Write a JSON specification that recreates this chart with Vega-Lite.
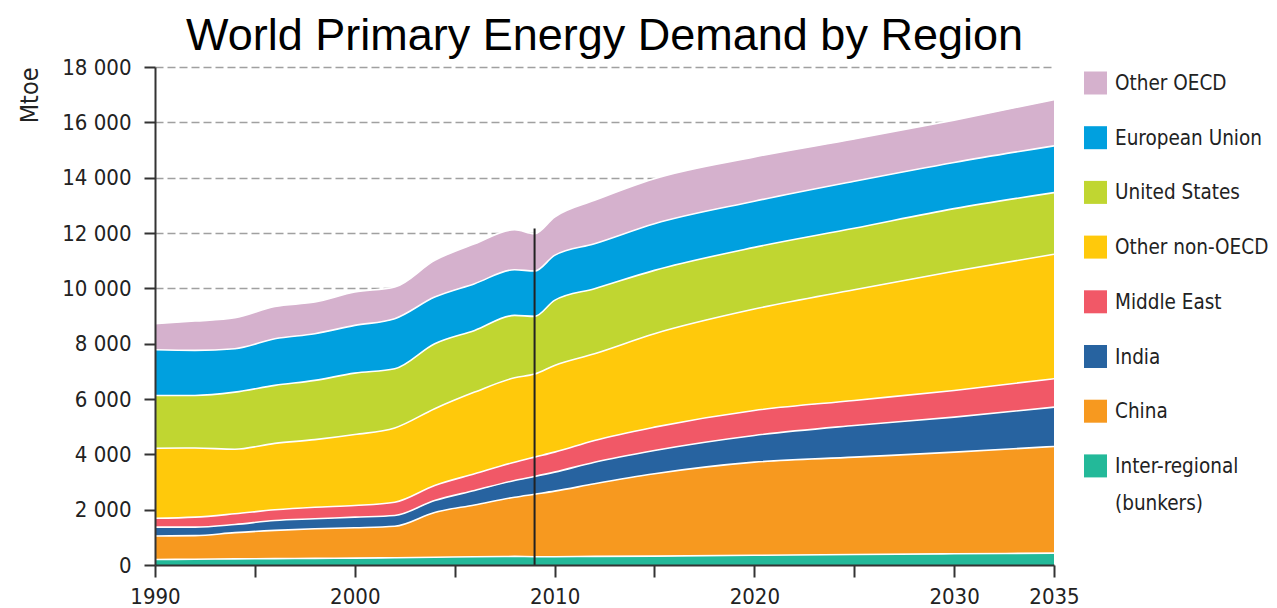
{
  "$schema": "https://vega.github.io/schema/vega-lite/v6.json",
  "width": 899,
  "height": 498,
  "autosize": {"type": "none"},
  "padding": {"left": 155, "top": 67, "right": 223, "bottom": 43},
  "background": "white",
  "title": {"text": "World Primary Energy Demand by Region", "font": "Liberation Sans, Arial, sans-serif", "fontSize": 45, "fontWeight": "normal", "color": "#000000", "anchor": "middle", "frame": "group", "baseline": "alphabetic", "offset": -39},
  "config": {"view": {"stroke": null}},
  "datasets": {
    "energy": [
      {"year": 1990, "region": "Inter-regional (bunkers)", "value": 200}, {"year": 1990, "region": "China", "value": 850}, {"year": 1990, "region": "India", "value": 320}, {"year": 1990, "region": "Middle East", "value": 320}, {"year": 1990, "region": "Other non-OECD", "value": 2530}, {"year": 1990, "region": "United States", "value": 1909}, {"year": 1990, "region": "European Union", "value": 1652}, {"year": 1990, "region": "Other OECD", "value": 941},
      {"year": 1992, "region": "Inter-regional (bunkers)", "value": 210}, {"year": 1992, "region": "China", "value": 850}, {"year": 1992, "region": "India", "value": 310}, {"year": 1992, "region": "Middle East", "value": 359}, {"year": 1992, "region": "Other non-OECD", "value": 2501}, {"year": 1992, "region": "United States", "value": 1899}, {"year": 1992, "region": "European Union", "value": 1628}, {"year": 1992, "region": "Other OECD", "value": 1060},
      {"year": 1994, "region": "Inter-regional (bunkers)", "value": 220}, {"year": 1994, "region": "China", "value": 950}, {"year": 1994, "region": "India", "value": 294}, {"year": 1994, "region": "Middle East", "value": 387}, {"year": 1994, "region": "Other non-OECD", "value": 2334}, {"year": 1994, "region": "United States", "value": 2064}, {"year": 1994, "region": "European Union", "value": 1569}, {"year": 1994, "region": "Other OECD", "value": 1120},
      {"year": 1996, "region": "Inter-regional (bunkers)", "value": 230}, {"year": 1996, "region": "China", "value": 1020}, {"year": 1996, "region": "India", "value": 359}, {"year": 1996, "region": "Middle East", "value": 387}, {"year": 1996, "region": "Other non-OECD", "value": 2399}, {"year": 1996, "region": "United States", "value": 2096}, {"year": 1996, "region": "European Union", "value": 1689}, {"year": 1996, "region": "Other OECD", "value": 1167},
      {"year": 1998, "region": "Inter-regional (bunkers)", "value": 240}, {"year": 1998, "region": "China", "value": 1070}, {"year": 1998, "region": "India", "value": 360}, {"year": 1998, "region": "Middle East", "value": 420}, {"year": 1998, "region": "Other non-OECD", "value": 2440}, {"year": 1998, "region": "United States", "value": 2142}, {"year": 1998, "region": "European Union", "value": 1688}, {"year": 1998, "region": "Other OECD", "value": 1143},
      {"year": 2000, "region": "Inter-regional (bunkers)", "value": 250}, {"year": 2000, "region": "China", "value": 1095}, {"year": 2000, "region": "India", "value": 384}, {"year": 2000, "region": "Middle East", "value": 423}, {"year": 2000, "region": "Other non-OECD", "value": 2563}, {"year": 2000, "region": "United States", "value": 2221}, {"year": 2000, "region": "European Union", "value": 1725}, {"year": 2000, "region": "Other OECD", "value": 1204},
      {"year": 2002, "region": "Inter-regional (bunkers)", "value": 260}, {"year": 2002, "region": "China", "value": 1140}, {"year": 2002, "region": "India", "value": 390}, {"year": 2002, "region": "Middle East", "value": 481}, {"year": 2002, "region": "Other non-OECD", "value": 2684}, {"year": 2002, "region": "United States", "value": 2138}, {"year": 2002, "region": "European Union", "value": 1809}, {"year": 2002, "region": "Other OECD", "value": 1144},
      {"year": 2004, "region": "Inter-regional (bunkers)", "value": 280}, {"year": 2004, "region": "China", "value": 1620}, {"year": 2004, "region": "India", "value": 432}, {"year": 2004, "region": "Middle East", "value": 543}, {"year": 2004, "region": "Other non-OECD", "value": 2775}, {"year": 2004, "region": "United States", "value": 2348}, {"year": 2004, "region": "European Union", "value": 1686}, {"year": 2004, "region": "Other OECD", "value": 1327},
      {"year": 2006, "region": "Inter-regional (bunkers)", "value": 300}, {"year": 2006, "region": "China", "value": 1870}, {"year": 2006, "region": "India", "value": 524}, {"year": 2006, "region": "Middle East", "value": 604}, {"year": 2006, "region": "Other non-OECD", "value": 2951}, {"year": 2006, "region": "United States", "value": 2231}, {"year": 2006, "region": "European Union", "value": 1688}, {"year": 2006, "region": "Other OECD", "value": 1446},
      {"year": 2008, "region": "Inter-regional (bunkers)", "value": 310}, {"year": 2008, "region": "China", "value": 2140}, {"year": 2008, "region": "India", "value": 605}, {"year": 2008, "region": "Middle East", "value": 662}, {"year": 2008, "region": "Other non-OECD", "value": 3052}, {"year": 2008, "region": "United States", "value": 2253}, {"year": 2008, "region": "European Union", "value": 1652}, {"year": 2008, "region": "Other OECD", "value": 1447},
      {"year": 2009, "region": "Inter-regional (bunkers)", "value": 300}, {"year": 2009, "region": "China", "value": 2260}, {"year": 2009, "region": "India", "value": 640}, {"year": 2009, "region": "Middle East", "value": 700}, {"year": 2009, "region": "Other non-OECD", "value": 3000}, {"year": 2009, "region": "United States", "value": 2086}, {"year": 2009, "region": "European Union", "value": 1639}, {"year": 2009, "region": "Other OECD", "value": 1351},
      {"year": 2010, "region": "Inter-regional (bunkers)", "value": 300}, {"year": 2010, "region": "China", "value": 2370}, {"year": 2010, "region": "India", "value": 686}, {"year": 2010, "region": "Middle East", "value": 723}, {"year": 2010, "region": "Other non-OECD", "value": 3135}, {"year": 2010, "region": "United States", "value": 2351}, {"year": 2010, "region": "European Union", "value": 1627}, {"year": 2010, "region": "Other OECD", "value": 1386},
      {"year": 2012, "region": "Inter-regional (bunkers)", "value": 310}, {"year": 2012, "region": "China", "value": 2626}, {"year": 2012, "region": "India", "value": 781}, {"year": 2012, "region": "Middle East", "value": 785}, {"year": 2012, "region": "Other non-OECD", "value": 3135}, {"year": 2012, "region": "United States", "value": 2349}, {"year": 2012, "region": "European Union", "value": 1628}, {"year": 2012, "region": "Other OECD", "value": 1567},
      {"year": 2015, "region": "Inter-regional (bunkers)", "value": 320}, {"year": 2015, "region": "China", "value": 2978}, {"year": 2015, "region": "India", "value": 842}, {"year": 2015, "region": "Middle East", "value": 843}, {"year": 2015, "region": "Other non-OECD", "value": 3377}, {"year": 2015, "region": "United States", "value": 2289}, {"year": 2015, "region": "European Union", "value": 1689}, {"year": 2015, "region": "Other OECD", "value": 1627},
      {"year": 2020, "region": "Inter-regional (bunkers)", "value": 350}, {"year": 2020, "region": "China", "value": 3367}, {"year": 2020, "region": "India", "value": 966}, {"year": 2020, "region": "Middle East", "value": 904}, {"year": 2020, "region": "Other non-OECD", "value": 3663}, {"year": 2020, "region": "United States", "value": 2230}, {"year": 2020, "region": "European Union", "value": 1670}, {"year": 2020, "region": "Other OECD", "value": 1600},
      {"year": 2025, "region": "Inter-regional (bunkers)", "value": 380}, {"year": 2025, "region": "China", "value": 3518}, {"year": 2025, "region": "India", "value": 1147}, {"year": 2025, "region": "Middle East", "value": 903}, {"year": 2025, "region": "Other non-OECD", "value": 4002}, {"year": 2025, "region": "United States", "value": 2220}, {"year": 2025, "region": "European Union", "value": 1700}, {"year": 2025, "region": "Other OECD", "value": 1530},
      {"year": 2030, "region": "Inter-regional (bunkers)", "value": 405}, {"year": 2030, "region": "China", "value": 3674}, {"year": 2030, "region": "India", "value": 1266}, {"year": 2030, "region": "Middle East", "value": 965}, {"year": 2030, "region": "Other non-OECD", "value": 4310}, {"year": 2030, "region": "United States", "value": 2260}, {"year": 2030, "region": "European Union", "value": 1670}, {"year": 2030, "region": "Other OECD", "value": 1530},
      {"year": 2035, "region": "Inter-regional (bunkers)", "value": 430}, {"year": 2035, "region": "China", "value": 3855}, {"year": 2035, "region": "India", "value": 1421}, {"year": 2035, "region": "Middle East", "value": 1027}, {"year": 2035, "region": "Other non-OECD", "value": 4497}, {"year": 2035, "region": "United States", "value": 2230}, {"year": 2035, "region": "European Union", "value": 1690}, {"year": 2035, "region": "Other OECD", "value": 1670}
    ],
    "marker": [{"year": 2009, "lo": 0, "hi": 12160}]
  },
  "encoding": {
    "x": {
      "field": "year", "type": "quantitative",
      "scale": {"domain": [1990, 2035], "nice": false, "zero": false},
      "axis": {
        "values": [1990, 1995, 2000, 2005, 2010, 2015, 2020, 2025, 2030, 2035],
        "format": "d",
        "labelExpr": "datum.value % 10 == 0 || datum.value == 2035 ? datum.label : ''",
        "title": null, "grid": false,
        "domainColor": "#333333", "domainWidth": 2,
        "tickColor": "#333333", "tickWidth": 2, "tickSize": 12,
        "labelPadding": 9, "labelFlush": false, "labelOverlap": false,
        "labelFont": "DejaVu Sans Condensed, DejaVu Sans, sans-serif",
        "labelFontSize": 22, "labelColor": "#222222",
        "zindex": 1
      }
    }
  },
  "layer": [
    {
      "data": {"name": "energy"},
      "transform": [
        {"calculate": "indexof(['Inter-regional (bunkers)', 'China', 'India', 'Middle East', 'Other non-OECD', 'United States', 'European Union', 'Other OECD'], datum.region)", "as": "so"},
        {"stack": "value", "groupby": ["year"], "sort": [{"field": "so", "order": "ascending"}], "as": ["v0", "v1"]}
      ],
      "mark": {"type": "area", "interpolate": "monotone"},
      "encoding": {
        "y": {
          "field": "v1", "type": "quantitative",
          "scale": {"domain": [0, 18000], "nice": false},
          "axis": {
            "orient": "left", "values": [2000, 4000, 6000, 8000, 10000, 12000, 14000, 16000, 18000],
            "grid": true, "gridDash": [8, 4], "gridColor": "#a0a0a0", "gridWidth": 1.5,
            "domain": false, "ticks": false, "labels": false, "title": null, "zindex": 0
          }
        },
        "y2": {"field": "v0"},
        "color": {
          "field": "region", "type": "nominal",
          "scale": {
            "domain": ["Other OECD", "European Union", "United States", "Other non-OECD", "Middle East", "India", "China", "Inter-regional (bunkers)"],
            "range": ["#d5b1cd", "#00a0df", "#c0d631", "#ffc90b", "#f15867", "#2763a0", "#f7991f", "#23b999"]
          },
          "legend": {
            "orient": "none", "legendX": 929, "legendY": 4.5, "title": null, "padding": 0,
            "symbolType": "square", "symbolSize": 529, "symbolStrokeWidth": 0, "symbolOpacity": 1,
            "labelFont": "DejaVu Sans Condensed, DejaVu Sans, sans-serif",
            "labelFontSize": 20.5, "labelColor": "#222222", "labelLimit": 300, "labelOffset": 8,
            "rowPadding": 31.7, "labelBaseline": "alphabetic",
            "labelExpr": "datum.label == 'Inter-regional (bunkers)' ? ['Inter-regional', '(bunkers)'] : datum.label",
            "encode": {"labels": {"update": {"dy": {"value": 7}, "lineHeight": {"value": 37}}}}
          }
        }
      }
    },
    {
      "data": {"name": "energy"},
      "transform": [
        {"calculate": "indexof(['Inter-regional (bunkers)', 'China', 'India', 'Middle East', 'Other non-OECD', 'United States', 'European Union', 'Other OECD'], datum.region)", "as": "so"},
        {"stack": "value", "groupby": ["year"], "sort": [{"field": "so", "order": "ascending"}], "as": ["v0", "v1"]}
      ],
      "mark": {"type": "line", "interpolate": "monotone", "color": "#ffffff", "strokeWidth": 1.6},
      "encoding": {
        "y": {"field": "v1", "type": "quantitative", "scale": {"domain": [0, 18000], "nice": false}, "axis": null},
        "detail": {"field": "region", "type": "nominal"}
      }
    },
    {
      "data": {"name": "marker"},
      "mark": {"type": "rule", "color": "#222222", "strokeWidth": 2},
      "encoding": {
        "y": {
          "field": "lo", "type": "quantitative",
          "scale": {"domain": [0, 18000], "nice": false},
          "axis": {
            "orient": "left",
            "values": [0, 2000, 4000, 6000, 8000, 10000, 12000, 14000, 16000, 18000],
            "labelExpr": "replace(format(datum.value, ',d'), ',', ' ')",
            "title": "Mtoe", "titleAnchor": "end", "titleAngle": -90, "titlePadding": 19,
            "titleFont": "DejaVu Sans Condensed, DejaVu Sans, sans-serif",
            "titleFontSize": 25, "titleFontWeight": "normal", "titleColor": "#222222",
            "grid": false,
            "domainColor": "#333333", "domainWidth": 2,
            "tickColor": "#333333", "tickWidth": 2, "tickSize": 11,
            "labelPadding": 13,
            "labelFont": "DejaVu Sans Condensed, DejaVu Sans, sans-serif",
            "labelFontSize": 22, "labelColor": "#222222",
            "zindex": 1
          }
        },
        "y2": {"field": "hi"}
      }
    }
  ],
  "resolve": {"axis": {"y": "independent"}}
}
